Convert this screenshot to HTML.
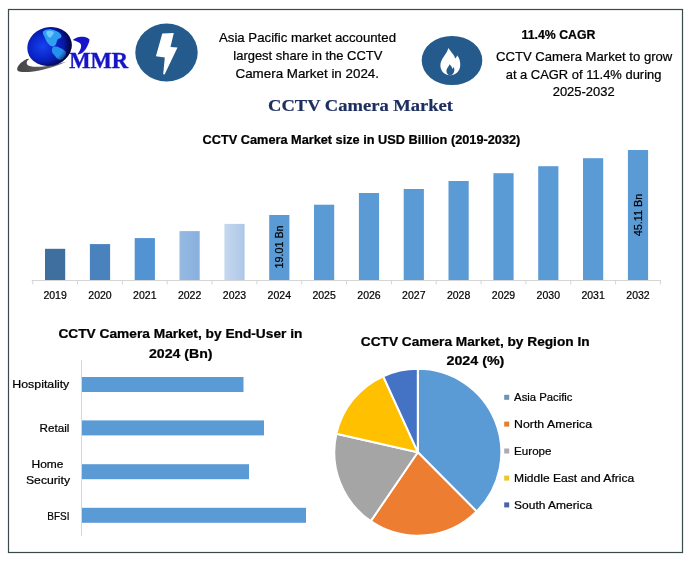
<!DOCTYPE html>
<html lang="en"><head><meta charset="utf-8"><title>CCTV Camera Market</title>
<style>
html,body{margin:0;padding:0;background:#fff;}
body{width:694px;height:565px;overflow:hidden;}
svg{display:block;}
text{font-family:"Liberation Sans",sans-serif;fill:#000;stroke:#000;stroke-width:0.22px;}
.b{font-weight:bold;}
.ser{font-family:"Liberation Serif",serif;font-weight:bold;stroke:none;}
</style></head><body>
<svg width="694" height="565" viewBox="0 0 694 565">
<defs>
<radialGradient id="gl" cx="0.36" cy="0.46" r="0.66">
<stop offset="0" stop-color="#1742f0"/><stop offset="0.45" stop-color="#0a26c8"/><stop offset="0.8" stop-color="#061394"/><stop offset="1" stop-color="#03084a"/>
</radialGradient>
<radialGradient id="rim" cx="0.4" cy="0.42" r="0.62">
<stop offset="0" stop-color="#02063a" stop-opacity="0"/><stop offset="0.72" stop-color="#02063a" stop-opacity="0"/><stop offset="1" stop-color="#02063a" stop-opacity="0.75"/>
</radialGradient>
<linearGradient id="sw" x1="0" y1="0" x2="1" y2="0"><stop offset="0" stop-color="#454545"/><stop offset="1" stop-color="#6e6e78"/></linearGradient>
<linearGradient id="b22" x1="0" y1="0" x2="1" y2="0"><stop offset="0" stop-color="#96b9e2"/><stop offset="1" stop-color="#88b0de"/></linearGradient>
<linearGradient id="b23" x1="0" y1="0" x2="1" y2="0"><stop offset="0" stop-color="#c6d8ef"/><stop offset="1" stop-color="#adc7e8"/></linearGradient>
</defs>
<rect x="0" y="0" width="694" height="565" fill="#ffffff"/>
<rect x="8.5" y="9.5" width="674" height="543" fill="none" stroke="#3a4a4a" stroke-width="1.2"/>

<g id="logo">
<path d="M26.7,58.9 C20.5,62 16,67 17.5,70.4 C20,73.8 44,72.500 67,61.200 C52,66.500 31,68.500 27.500,65 C26,63 26.500,61 29.500,58.800 Z" fill="url(#sw)"/>
<ellipse cx="49.5" cy="46.5" rx="22.4" ry="19.2" fill="url(#gl)" transform="rotate(-14 49.5 46.5)"/>
<path d="M42.8,31.8 C44.500,29.800 48.600,29 51.500,29.500 C54.300,30 58.500,31.500 60.100,33.500 C61.500,35 61.800,36.500 61.300,37 C60.500,38.500 58.500,38.500 57.800,39.300 C56.500,41 56.500,43.500 55.500,45.100 C54.500,46.500 53,46.800 52,46.200 C50.500,45.800 49.500,45 48.600,43.900 C47,42.500 45.800,40.500 45.100,38.100 C44.300,36 42.500,34 42.800,31.800 Z" fill="#2f9ff2"/>
<path d="M46.500,31.500 C48.500,30.300 51.500,30.500 53.500,31.800 C54.500,33.500 52.500,35 51.500,36.500 C50.500,38 49,38 48,36.500 C47,35 46,33.500 46.500,31.500 Z" fill="#7fd4ff" opacity="0.8"/>
<path d="M53.200,46.800 C55.500,46.300 58,46.800 60.100,47.900 C62.500,49 64.800,50.200 65.900,52 C66.300,53.800 65.700,55.400 64.700,56.600 C63.500,58.200 61.800,59.600 60.100,60 C58.300,59.800 56.500,58.200 55.500,56.600 C54.300,55 52.800,53.600 52,52 C51.600,50 52,48 53.200,46.800 Z" fill="#2690ee"/>
<ellipse cx="49.5" cy="46.5" rx="22.4" ry="19.2" fill="url(#rim)" transform="rotate(-14 49.5 46.5)"/>
<path d="M72.8,39.9 C75,38.200 77.200,37.300 79.300,37 C81.500,36.700 83.600,36.800 85.600,37.200 C87,37.600 88.500,38.400 89.500,39.400 C89.500,40.800 89.100,42.200 88.500,43.500 C87.800,45.400 86.900,47.200 85.800,48.900 C84.600,50.700 82.900,52.400 81.200,53.500 C80,54.100 78.600,54.400 77.300,54.500 C78.600,53 79.600,51.400 80.300,49.600 C80.900,48.200 81.300,46.500 81,45 C80.600,43.700 79.700,42.900 78.500,42.300 C76.700,41.300 74.800,40.400 72.800,39.900 Z" fill="#1616c8"/>
<text class="ser" x="69.2" y="67.7" font-size="22.4" textLength="59" lengthAdjust="spacingAndGlyphs" style="fill:#1616c8;stroke:#1616c8;stroke-width:0.35px">MMR</text>
</g>
<g id="bolt">
<ellipse cx="166.5" cy="52.5" rx="31.2" ry="29" fill="#255a8c"/>
<polygon points="162.3,33.6 173.8,32.9 170.5,46.9 177.5,47.5 164.6,74.6 163.2,74.2 164.8,57.5 155.9,56.2" fill="#ffffff"/>
</g>
<g id="flame">
<ellipse cx="452" cy="60.5" rx="30.3" ry="24.6" fill="#255a8c"/>
<path d="M448.4,47.9 C450.500,51.500 454.500,54.500 455.200,58.500 C456.200,57.700 456.900,56.600 457.100,55.300 C459.500,58 460.500,62 460.200,66 C459.800,71 456,75.200 450.300,75.200 C444.500,75.200 440.400,71 440.400,65.500 C440.400,60 444.500,56 446.500,52.500 C447.300,51 448,49.500 448.400,47.900 Z" fill="#ffffff"/>
<path d="M449.600,64.2 C451.200,66 452.300,67.500 452.500,69 C453.100,68.500 453.500,67.700 453.600,66.800 C454.500,68.500 454.600,70.800 453.800,72.500 C453.100,74.200 451.700,75.300 450.200,75.300 C448.200,75.300 446.400,73.600 446.400,71 C446.400,68 448.800,66.600 449.600,64.200 Z" fill="#255a8c"/>
</g>
<text x="219" y="41.6" font-size="13.1" textLength="177" lengthAdjust="spacingAndGlyphs">Asia Pacific market accounted</text>
<text x="233.3" y="59.7" font-size="13.1" textLength="149" lengthAdjust="spacingAndGlyphs">largest share in the CCTV</text>
<text x="235.5" y="78" font-size="13.1" textLength="143.5" lengthAdjust="spacingAndGlyphs">Camera Market in 2024.</text>
<text class="b" x="521.6" y="38.7" font-size="12" textLength="73.8" lengthAdjust="spacingAndGlyphs">11.4% CAGR</text>
<text x="496" y="60.9" font-size="12.9" textLength="176.3" lengthAdjust="spacingAndGlyphs">CCTV Camera Market to grow</text>
<text x="505.7" y="78.6" font-size="12.9" textLength="155.7" lengthAdjust="spacingAndGlyphs">at a CAGR of 11.4% during</text>
<text x="552.7" y="96.4" font-size="12.9" textLength="62" lengthAdjust="spacingAndGlyphs">2025-2032</text>
<text class="ser" x="268" y="111" font-size="17.6" textLength="185" lengthAdjust="spacingAndGlyphs" style="fill:#1d2f60;stroke:#1d2f60;stroke-width:0.2px">CCTV Camera Market</text>
<text class="b" x="202.6" y="143.9" font-size="11.9" textLength="317.7" lengthAdjust="spacingAndGlyphs">CCTV Camera Market size in USD Billion (2019-2032)</text>
<g id="bars">
<rect x="45.0" y="248.8" width="20.2" height="31.2" fill="#3f6f9f"/>
<rect x="89.9" y="244.1" width="20.2" height="35.9" fill="#4982bd"/>
<rect x="134.7" y="238.1" width="20.2" height="41.9" fill="#5293d4"/>
<rect x="179.5" y="231.1" width="20.2" height="48.9" fill="url(#b22)"/>
<rect x="224.4" y="223.9" width="20.2" height="56.1" fill="url(#b23)"/>
<rect x="269.2" y="215" width="20.2" height="65.0" fill="#5b9bd5"/>
<rect x="314.0" y="204.7" width="20.2" height="75.3" fill="#5b9bd5"/>
<rect x="358.9" y="193" width="20.2" height="87.0" fill="#5b9bd5"/>
<rect x="403.7" y="189" width="20.2" height="91.0" fill="#5b9bd5"/>
<rect x="448.5" y="181" width="20.2" height="99.0" fill="#5b9bd5"/>
<rect x="493.4" y="173.2" width="20.2" height="106.8" fill="#5b9bd5"/>
<rect x="538.2" y="166.2" width="20.2" height="113.8" fill="#5b9bd5"/>
<rect x="583.0" y="158.2" width="20.2" height="121.8" fill="#5b9bd5"/>
<rect x="627.9" y="150" width="20.2" height="130.0" fill="#5b9bd5"/>
<path d="M31.700000000000003,280.5 H661.0" stroke="#d6d6d6" stroke-width="1" fill="none"/>
<path d="M32.7,280.5 V284.5" stroke="#d6d6d6" stroke-width="1" fill="none"/>
<path d="M77.5,280.5 V284.5" stroke="#d6d6d6" stroke-width="1" fill="none"/>
<path d="M122.4,280.5 V284.5" stroke="#d6d6d6" stroke-width="1" fill="none"/>
<path d="M167.2,280.5 V284.5" stroke="#d6d6d6" stroke-width="1" fill="none"/>
<path d="M212.0,280.5 V284.5" stroke="#d6d6d6" stroke-width="1" fill="none"/>
<path d="M256.9,280.5 V284.5" stroke="#d6d6d6" stroke-width="1" fill="none"/>
<path d="M301.7,280.5 V284.5" stroke="#d6d6d6" stroke-width="1" fill="none"/>
<path d="M346.5,280.5 V284.5" stroke="#d6d6d6" stroke-width="1" fill="none"/>
<path d="M391.4,280.5 V284.5" stroke="#d6d6d6" stroke-width="1" fill="none"/>
<path d="M436.2,280.5 V284.5" stroke="#d6d6d6" stroke-width="1" fill="none"/>
<path d="M481.1,280.5 V284.5" stroke="#d6d6d6" stroke-width="1" fill="none"/>
<path d="M525.9,280.5 V284.5" stroke="#d6d6d6" stroke-width="1" fill="none"/>
<path d="M570.7,280.5 V284.5" stroke="#d6d6d6" stroke-width="1" fill="none"/>
<path d="M615.6,280.5 V284.5" stroke="#d6d6d6" stroke-width="1" fill="none"/>
<path d="M660.4,280.5 V284.5" stroke="#d6d6d6" stroke-width="1" fill="none"/>
<text x="43.4" y="299" font-size="11.4" textLength="23.4" lengthAdjust="spacingAndGlyphs">2019</text>
<text x="88.3" y="299" font-size="11.4" textLength="23.4" lengthAdjust="spacingAndGlyphs">2020</text>
<text x="133.1" y="299" font-size="11.4" textLength="23.4" lengthAdjust="spacingAndGlyphs">2021</text>
<text x="177.9" y="299" font-size="11.4" textLength="23.4" lengthAdjust="spacingAndGlyphs">2022</text>
<text x="222.8" y="299" font-size="11.4" textLength="23.4" lengthAdjust="spacingAndGlyphs">2023</text>
<text x="267.6" y="299" font-size="11.4" textLength="23.4" lengthAdjust="spacingAndGlyphs">2024</text>
<text x="312.4" y="299" font-size="11.4" textLength="23.4" lengthAdjust="spacingAndGlyphs">2025</text>
<text x="357.3" y="299" font-size="11.4" textLength="23.4" lengthAdjust="spacingAndGlyphs">2026</text>
<text x="402.1" y="299" font-size="11.4" textLength="23.4" lengthAdjust="spacingAndGlyphs">2027</text>
<text x="446.9" y="299" font-size="11.4" textLength="23.4" lengthAdjust="spacingAndGlyphs">2028</text>
<text x="491.8" y="299" font-size="11.4" textLength="23.4" lengthAdjust="spacingAndGlyphs">2029</text>
<text x="536.6" y="299" font-size="11.4" textLength="23.4" lengthAdjust="spacingAndGlyphs">2030</text>
<text x="581.4" y="299" font-size="11.4" textLength="23.4" lengthAdjust="spacingAndGlyphs">2031</text>
<text x="626.3" y="299" font-size="11.4" textLength="23.4" lengthAdjust="spacingAndGlyphs">2032</text>
</g>
<text font-size="11" textLength="43" lengthAdjust="spacingAndGlyphs" transform="translate(282.6,268.4) rotate(-90)">19.01 Bn</text>
<text font-size="11" textLength="42.5" lengthAdjust="spacingAndGlyphs" transform="translate(642.3,236.3) rotate(-90)">45.11 Bn</text>
<text class="b" x="58.4" y="337.6" font-size="11.9" textLength="244" lengthAdjust="spacingAndGlyphs">CCTV Camera Market, by End-User in</text>
<text class="b" x="149" y="357.5" font-size="11.9" textLength="63.5" lengthAdjust="spacingAndGlyphs">2024 (Bn)</text>
<path d="M81.5,360 V536" stroke="#d6d6d6" stroke-width="1" fill="none"/>
<rect x="82" y="377" width="161.5" height="15" fill="#5b9bd5"/>
<rect x="82" y="420.4" width="182.0" height="15" fill="#5b9bd5"/>
<rect x="82" y="464.2" width="167.0" height="15" fill="#5b9bd5"/>
<rect x="82" y="507.8" width="224.0" height="15" fill="#5b9bd5"/>
<text x="12.3" y="388.2" font-size="11.2" textLength="57" lengthAdjust="spacingAndGlyphs">Hospitality</text>
<text x="39.6" y="431.6" font-size="11.2" textLength="29.8" lengthAdjust="spacingAndGlyphs">Retail</text>
<text x="31.5" y="467.5" font-size="11.2" textLength="32" lengthAdjust="spacingAndGlyphs">Home</text>
<text x="26" y="484" font-size="11.2" textLength="44" lengthAdjust="spacingAndGlyphs">Security</text>
<text x="47.3" y="520" font-size="11.2" textLength="22.2" lengthAdjust="spacingAndGlyphs">BFSI</text>
<text class="b" x="360.8" y="345.9" font-size="11.9" textLength="228.8" lengthAdjust="spacingAndGlyphs">CCTV Camera Market, by Region In</text>
<text class="b" x="446.5" y="365.2" font-size="11.9" textLength="57.8" lengthAdjust="spacingAndGlyphs">2024 (%)</text>
<path d="M417.8,452.2 L417.80,368.70 A83.5,83.5 0 0 1 476.64,511.45 Z" fill="#5b9bd5" stroke="#ffffff" stroke-width="2" stroke-linejoin="round"/>
<path d="M417.8,452.2 L476.64,511.45 A83.5,83.5 0 0 1 370.75,521.18 Z" fill="#ed7d31" stroke="#ffffff" stroke-width="2" stroke-linejoin="round"/>
<path d="M417.8,452.2 L370.75,521.18 A83.5,83.5 0 0 1 336.38,433.70 Z" fill="#a5a5a5" stroke="#ffffff" stroke-width="2" stroke-linejoin="round"/>
<path d="M417.8,452.2 L336.38,433.70 A83.5,83.5 0 0 1 383.17,376.22 Z" fill="#ffc000" stroke="#ffffff" stroke-width="2" stroke-linejoin="round"/>
<path d="M417.8,452.2 L383.17,376.22 A83.5,83.5 0 0 1 417.80,368.70 Z" fill="#4472c4" stroke="#ffffff" stroke-width="2" stroke-linejoin="round"/>
<rect x="504.2" y="394.8" width="5" height="5" fill="#6f93b3"/>
<text x="514.1" y="401" font-size="11.3" textLength="58.4" lengthAdjust="spacingAndGlyphs">Asia Pacific</text>
<rect x="504.2" y="421.6" width="5" height="5" fill="#e08030"/>
<text x="514.1" y="427.8" font-size="11.3" textLength="78" lengthAdjust="spacingAndGlyphs">North America</text>
<rect x="504.2" y="448.5" width="5" height="5" fill="#aeaab4"/>
<text x="514.1" y="454.7" font-size="11.3" textLength="37.4" lengthAdjust="spacingAndGlyphs">Europe</text>
<rect x="504.2" y="475.6" width="5" height="5" fill="#ecc62c"/>
<text x="514.1" y="481.8" font-size="11.3" textLength="120.1" lengthAdjust="spacingAndGlyphs">Middle East and Africa</text>
<rect x="504.2" y="502.4" width="5" height="5" fill="#4a64a6"/>
<text x="514.1" y="508.6" font-size="11.3" textLength="78" lengthAdjust="spacingAndGlyphs">South America</text>
</svg></body></html>
